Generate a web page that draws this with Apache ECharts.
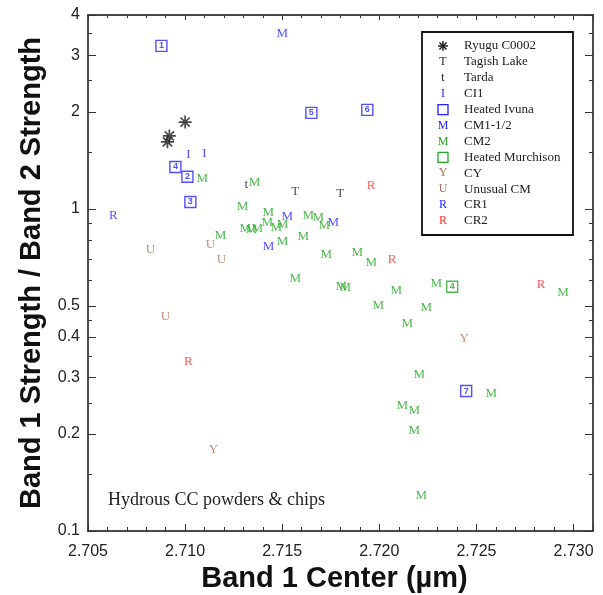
<!DOCTYPE html>
<html><head><meta charset="utf-8">
<script src="https://cdn.jsdelivr.net/npm/echarts@6/dist/echarts.min.js"></script>
<style>html,body{margin:0;padding:0;background:#fff}#c{width:603px;height:595px}</style>
</head><body><div id="c"></div>
<script>
// ---- data (Band 1 Center in µm, Band1/Band2 strength ratio) ----
const ryuguX = [2.7100, 2.70919, 2.70909];
const ryuguY = [1.86, 1.685, 1.615];
const tagishX = [2.71567, 2.71799];
const tagishY = [1.129, 1.113];
const tardaX = [2.71315];
const tardaY = [1.187];
const ci1X = [2.71017, 2.71099];
const ci1Y = [1.472, 1.482];
const ivunaX = [2.70878, 2.71012, 2.71027, 2.7095, 2.7165, 2.71938, 2.72447];
const ivunaY = [3.208, 1.258, 1.051, 1.350, 1.987, 2.030, 0.272];
const ivunaIds = ['1', '2', '3', '4', '5', '6', '7'];
const cm112X = [2.7150, 2.71526, 2.71763, 2.71429];
const cm112Y = [3.496, 0.9445, 0.9046, 0.762];
const cm2X = [2.71089, 2.71357, 2.71295, 2.71182, 2.7131, 2.71341, 2.71372, 2.71428, 2.71423, 2.7147,
  2.71501, 2.71634, 2.71686, 2.71717, 2.71501, 2.71609, 2.71727, 2.71567, 2.71804, 2.71825,
  2.71886, 2.71958, 2.72087, 2.72293, 2.71994, 2.72241, 2.72144, 2.72946, 2.72205, 2.72576,
  2.72118, 2.7218, 2.7218, 2.72216];
const cm2Y = [1.239, 1.204, 1.0144, 0.8243, 0.8667, 0.8605, 0.8667, 0.9718, 0.9046, 0.873,
  0.8918, 0.9512, 0.9376, 0.8855, 0.7898, 0.8185, 0.7196, 0.6062, 0.5722, 0.568,
  0.730, 0.6797, 0.5562, 0.5848, 0.4996, 0.4925, 0.4395, 0.5484, 0.3051, 0.2664,
  0.2444, 0.2358, 0.2045, 0.1284];
const murchX = [2.72375];
const murchY = [0.573];
const murchIds = ['4'];
const cyX = [2.72437, 2.71146];
const cyY = [0.3948, 0.1785];
const ucmX = [2.70822, 2.7113, 2.71187, 2.70899];
const ucmY = [0.7462, 0.7733, 0.6943, 0.4619];
const cr1X = [2.70631];
const cr1Y = [0.9512];
const cr2X = [2.71958, 2.72066, 2.71017, 2.72833];
const cr2Y = [1.179, 0.6943, 0.3348, 0.5808];

const xTickLabels = [2.705, 2.710, 2.715, 2.720, 2.725, 2.730];
const yTickLabels = [0.1, 0.2, 0.3, 0.4, 0.5, 1, 2, 3, 4];
const yMinorTicks = [0.15, 0.25, 0.35, 0.45, 0.6, 0.7, 0.8, 0.9, 1.5, 2.5, 3.5];

const legendNames = ['Ryugu C0002', 'Tagish Lake', 'Tarda', 'CI1', 'Heated Ivuna', 'CM1-1/2', 'CM2',
  'Heated Murchison', 'CY', 'Unusual CM', 'CR1', 'CR2'];
const legendSymbols = ['*', 'T', 't', 'I', 'sq', 'M', 'M', 'sq', 'Y', 'U', 'R', 'R'];

// ---- styles ----
const BLUE = '#2424ff', GREEN = '#22a822', BROWN = '#a8735a', RED = '#ff2e2e', BLACK = '#1a1a1a';
const legendColors = [BLACK, BLACK, BLACK, BLUE, BLUE, BLUE, GREEN, GREEN, BROWN, BROWN, BLUE, RED];
const SERIF = '"Liberation Serif","Times New Roman",serif';
const SANS = '"Liberation Sans",Arial,sans-serif';
const ASTER = 'path://M-10,-1.3L10,-1.3L10,1.3L-10,1.3ZM1.3,-10L1.3,10L-1.3,10L-1.3,-10ZM-6.15,-7.99L7.99,6.15L6.15,7.99L-7.99,-6.15ZM-7.99,6.15L6.15,-7.99L7.99,-6.15L-6.15,7.99Z';

const pairs = (xs, ys) => xs.map((x, i) => [x, ys[i]]);
const letterSeries = (name, letter, color, xs, ys) => ({
  name, type: 'scatter', xAxisIndex: 0, yAxisIndex: 0, data: pairs(xs, ys),
  symbol: 'circle', symbolSize: 1, itemStyle: { color: 'rgba(0,0,0,0)' },
  label: { show: true, position: 'inside', formatter: letter, color, fontFamily: SERIF, fontSize: 13 },
  emphasis: { disabled: true }, z: 5
});
const squareSeries = (name, ids, color, xs, ys) => ({
  name, type: 'scatter', xAxisIndex: 0, yAxisIndex: 0, data: pairs(xs, ys),
  symbol: 'rect', symbolSize: 11,
  itemStyle: { color: '#fff', borderColor: color, borderWidth: 1.4 },
  label: { show: true, position: 'inside', formatter: p => ids[p.dataIndex], color, fontFamily: SANS, fontWeight: 'bold', fontSize: 9 },
  emphasis: { disabled: true }, z: 4
});

const LG = { x: 422, y: 32, w: 151, h: 203, symX: 443, txtX: 464, y0: 46, dy: 15.9 };
const legendGraphics = [{
  type: 'rect', shape: { x: LG.x, y: LG.y, width: LG.w, height: LG.h },
  style: { fill: '#fff', stroke: '#111', lineWidth: 1.8 }, z: 10
}];
legendNames.forEach((n, i) => {
  const cy = LG.y0 + i * LG.dy, c = legendColors[i], s = legendSymbols[i];
  if (s === 'sq') {
    legendGraphics.push({ type: 'rect', shape: { x: LG.symX - 5, y: cy - 5, width: 10, height: 10 },
      style: { fill: '#fff', stroke: c, lineWidth: 1.3 }, z: 11 });
  } else if (s === '*') {
    [[-5, 0, 5, 0], [0, -5, 0, 5], [-3.6, -3.6, 3.6, 3.6], [-3.6, 3.6, 3.6, -3.6]].forEach(d => {
      legendGraphics.push({ type: 'line', shape: { x1: LG.symX + d[0], y1: cy + d[1], x2: LG.symX + d[2], y2: cy + d[3] },
        style: { stroke: c, lineWidth: 1.4 }, z: 11 });
    });
  } else {
    legendGraphics.push({ type: 'text', x: LG.symX, y: cy, z: 11,
      style: { text: s, fill: c, font: '12px ' + SERIF, align: 'center', verticalAlign: 'middle' } });
  }
  legendGraphics.push({ type: 'text', x: LG.txtX, y: cy, z: 11,
    style: { text: n, fill: '#222', font: '13px ' + SERIF, align: 'left', verticalAlign: 'middle' } });
});
legendGraphics.push({ type: 'text', x: 108, y: 500, z: 11,
  style: { text: 'Hydrous CC powders & chips', fill: '#222', font: '18px ' + SERIF, align: 'left', verticalAlign: 'middle' } });

const lg10 = v => Math.log10(v);
const yLo = lg10(yTickLabels[0]), yHi = lg10(yTickLabels[yTickLabels.length - 1]);
const axLine = { show: true, onZero: false, lineStyle: { color: '#111', width: 1.5 } };

const overlayY = (position, withLabels, values, len, line) => ({
  type: 'value', position, min: yLo, max: yHi, gridIndex: 0,
  axisLine: line ? axLine : { show: false, onZero: false },
  splitLine: { show: false },
  axisTick: { show: true, inside: true, length: len, lineStyle: { color: '#333', width: 1 }, customValues: values.map(lg10) },
  axisLabel: withLabels ? {
    show: true, customValues: values.map(lg10), color: '#222', fontFamily: SANS, fontSize: 16, margin: 8,
    formatter: v => String(parseFloat(Math.pow(10, v).toPrecision(2)))
  } : { show: false },
  name: withLabels ? 'Band 1 Strength / Band 2 Strength' : '',
  nameLocation: 'middle', nameGap: 42,
  nameTextStyle: { fontFamily: SANS, fontWeight: 'bold', fontSize: 29, color: '#111' }
});

const option = {
  animation: false,
  backgroundColor: '#fff',
  grid: { left: 88, right: 10, top: 15, bottom: 64, containLabel: false, outerBoundsMode: 'none' },
  xAxis: [{
    type: 'value', position: 'bottom', min: 2.705, max: 2.731, interval: 0.005,
    axisLine: axLine, splitLine: { show: false },
    axisTick: { inside: true, length: 7, lineStyle: { color: '#333' } },
    minorTick: { show: true, splitNumber: 5, length: 4, lineStyle: { color: '#333' } },
    axisLabel: { color: '#222', fontFamily: SANS, fontSize: 16, margin: 13,
      customValues: xTickLabels, formatter: v => v.toFixed(3) },
    name: 'Band 1 Center (µm)', nameLocation: 'middle', nameGap: 24,
    nameTextStyle: { fontFamily: SANS, fontWeight: 'bold', fontSize: 29, color: '#111', padding: [0, 12, 0, 0] }
  }, {
    type: 'value', position: 'top', min: 2.705, max: 2.731, interval: 0.005,
    axisLine: axLine, splitLine: { show: false },
    axisTick: { inside: true, length: 5, lineStyle: { color: '#333' } },
    minorTick: { show: true, splitNumber: 5, length: 3, lineStyle: { color: '#333' } },
    axisLabel: { show: false }
  }],
  yAxis: [
    { type: 'log', logBase: 10, min: yTickLabels[0], max: yTickLabels[yTickLabels.length - 1], show: false },
    overlayY('left', true, yTickLabels, 8, true),
    overlayY('left', false, yMinorTicks, 4, false),
    overlayY('right', false, yTickLabels, 8, true),
    overlayY('right', false, yMinorTicks, 4, false)
  ],
  graphic: legendGraphics,
  series: [
    { name: 'Ryugu C0002', type: 'scatter', xAxisIndex: 0, yAxisIndex: 0, data: pairs(ryuguX, ryuguY),
      symbol: ASTER, symbolSize: 13, itemStyle: { color: BLACK }, emphasis: { disabled: true }, z: 4 },
    letterSeries('Tagish Lake', 'T', BLACK, tagishX, tagishY),
    letterSeries('Tarda', 't', BLACK, tardaX, tardaY),
    letterSeries('CI1', 'I', BLUE, ci1X, ci1Y),
    squareSeries('Heated Ivuna', ivunaIds, BLUE, ivunaX, ivunaY),
    letterSeries('CM1-1/2', 'M', BLUE, cm112X, cm112Y),
    letterSeries('CM2', 'M', GREEN, cm2X, cm2Y),
    squareSeries('Heated Murchison', murchIds, GREEN, murchX, murchY),
    letterSeries('CY', 'Y', BROWN, cyX, cyY),
    letterSeries('Unusual CM', 'U', BROWN, ucmX, ucmY),
    letterSeries('CR1', 'R', BLUE, cr1X, cr1Y),
    letterSeries('CR2', 'R', RED, cr2X, cr2Y)
  ]
};
const chart = echarts.init(document.getElementById('c'), null, { renderer: 'canvas' });
chart.setOption(option);
</script></body></html>
